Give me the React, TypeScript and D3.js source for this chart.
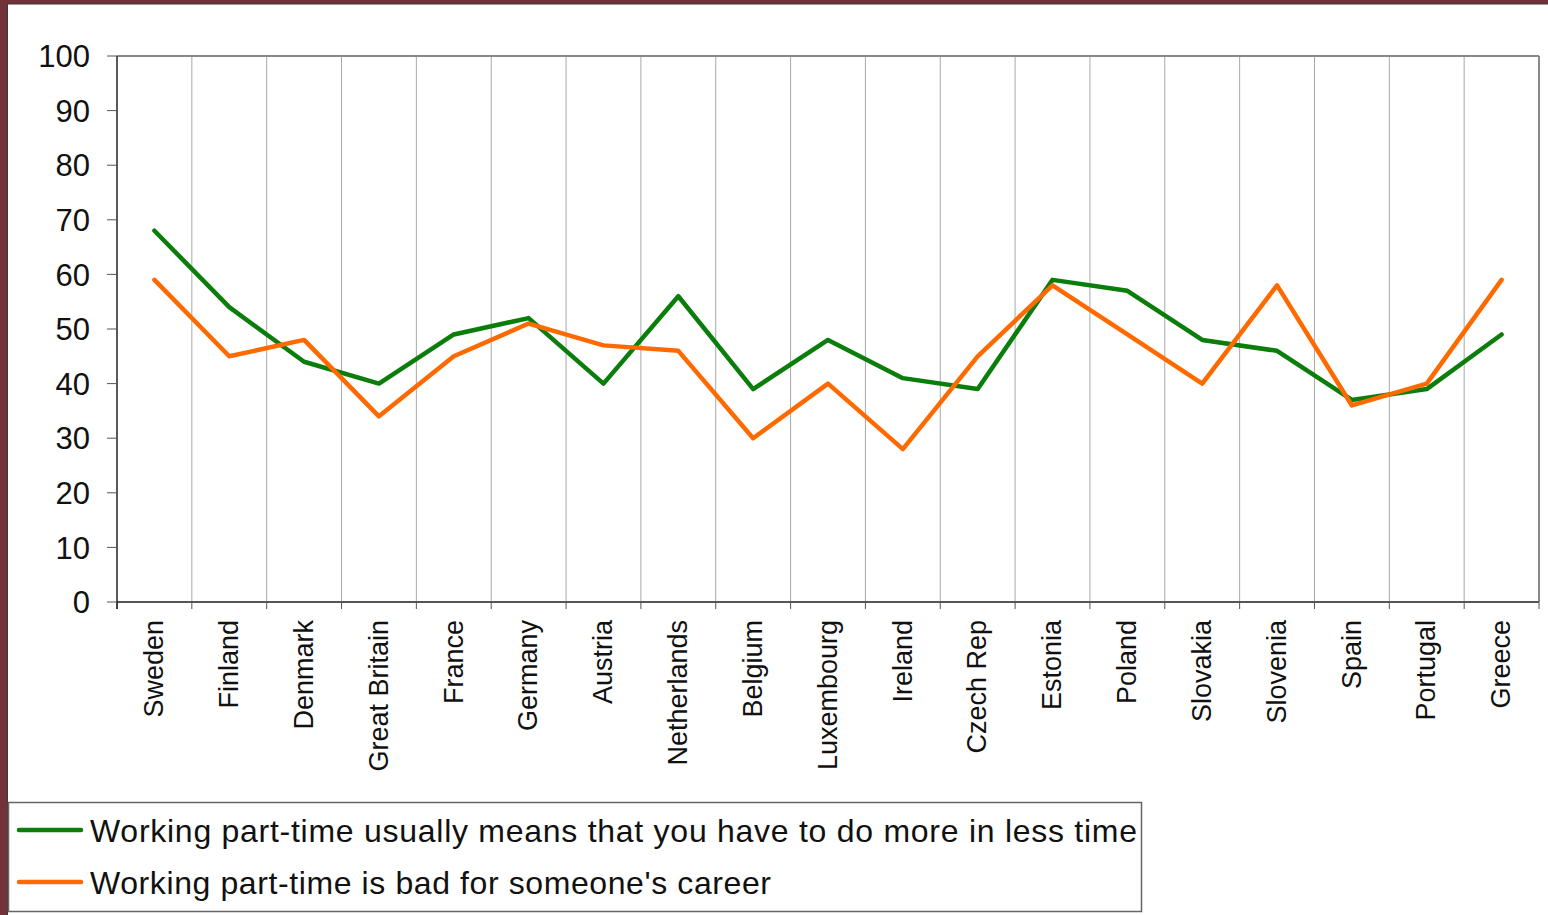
import React from "react";
import * as d3 from "d3";

const countries = ["Sweden","Finland","Denmark","Great Britain","France","Germany","Austria","Netherlands","Belgium","Luxembourg","Ireland","Czech Rep","Estonia","Poland","Slovakia","Slovenia","Spain","Portugal","Greece"];
const moreInLess = [68, 54, 44, 40, 49, 52, 40, 56, 39, 48, 41, 39, 59, 57, 48, 46, 37, 39, 49];
const badForCareer = [59, 45, 48, 34, 45, 51, 47, 46, 30, 40, 28, 45, 58, 49, 40, 58, 36, 40, 59];
const yTicks = [0, 10, 20, 30, 40, 50, 60, 70, 80, 90, 100];
const seriesNames = ["Working part-time usually means that you have to do more in less time", "Working part-time is bad for someone's career"];
const seriesColors = ["#0a7d0a", "#ff6a00"];

export default function App() {
  const W = 1548, H = 915;
  const left = 117, right = 1539, top = 56, bottom = 602;
  const x = d3.scaleBand().domain(countries).range([left, right]).padding(0);
  const y = d3.scaleLinear().domain([0, 100]).range([bottom, top]);
  const line = d3.line<number>().x((_, i) => x(countries[i])! + x.bandwidth() / 2).y(v => y(v));
  const boundaries = d3.range(countries.length + 1).map(i => left + i * x.bandwidth());
  const font = "'Liberation Sans', Arial, sans-serif";
  const legendTextLen = [1047, 681];
  return (
    <svg width={W} height={H} style={{ position: "absolute", left: 0, top: 0 }} fontFamily={font}>
      <rect x={0} y={0} width={W} height={H} fill="#fff" />
      <rect x={0} y={0} width={W} height={4} fill="#733238" />
      <line x1={0} x2={W} y1={4} y2={4} stroke="#3a3a3a" strokeWidth={1} />
      <rect x={0} y={0} width={7} height={H} fill="#733238" />
      <line x1={7.5} x2={7.5} y1={4} y2={H} stroke="#3a3a3a" strokeWidth={1} />
      {/* vertical gridlines */}
      {boundaries.slice(1, -1).map((b, i) => (
        <line key={i} x1={b} x2={b} y1={top} y2={bottom} stroke="#a8a8a8" strokeWidth={1} />
      ))}
      {/* plot border */}
      <line x1={left} x2={right} y1={top} y2={top} stroke="#888" strokeWidth={2} />
      <line x1={right} x2={right} y1={top} y2={bottom} stroke="#888" strokeWidth={2} />
      {/* x axis */}
      <line x1={left} x2={right} y1={bottom} y2={bottom} stroke="#555" strokeWidth={2} />
      {boundaries.map((b, i) => (
        <line key={i} x1={b} x2={b} y1={bottom} y2={bottom + 7} stroke="#555" strokeWidth={1} />
      ))}
      {/* y axis */}
      <line x1={left} x2={left} y1={top} y2={bottom + 7} stroke="#222" strokeWidth={1.5} />
      {yTicks.map(t => (
        <g key={t}>
          <line x1={left - 10} x2={left} y1={y(t)} y2={y(t)} stroke="#555" strokeWidth={1} />
          <text x={90} y={y(t)} dy="0.36em" textAnchor="end" fontSize={31} fill="#111">{t}</text>
        </g>
      ))}
      {countries.map(c => {
        const cx = x(c)! + x.bandwidth() / 2 - 1;
        return (
          <text key={c} transform={`translate(${cx},${620}) rotate(-90)`} textAnchor="end" dy="0.36em" fontSize={27} fill="#111">{c}</text>
        );
      })}
      {[moreInLess, badForCareer].map((s, i) => (
        <path key={i} d={line(s)!} fill="none" stroke={seriesColors[i]} strokeWidth={4.5} strokeLinejoin="round" strokeLinecap="round" />
      ))}
      {/* legend */}
      <rect x={8.5} y={802.5} width={1133} height={109} fill="#fff" stroke="#666" strokeWidth={1.5} />
      {seriesNames.map((n, i) => {
        const ly = 830 + i * 52;
        return (
          <g key={n}>
            <line x1={19} x2={81} y1={ly} y2={ly} stroke={seriesColors[i]} strokeWidth={4.5} strokeLinecap="round" />
            <text x={90} y={ly} dy="0.36em" fontSize={32} fill="#111" textLength={legendTextLen[i]} lengthAdjust="spacing">{n}</text>
          </g>
        );
      })}
    </svg>
  );
}
